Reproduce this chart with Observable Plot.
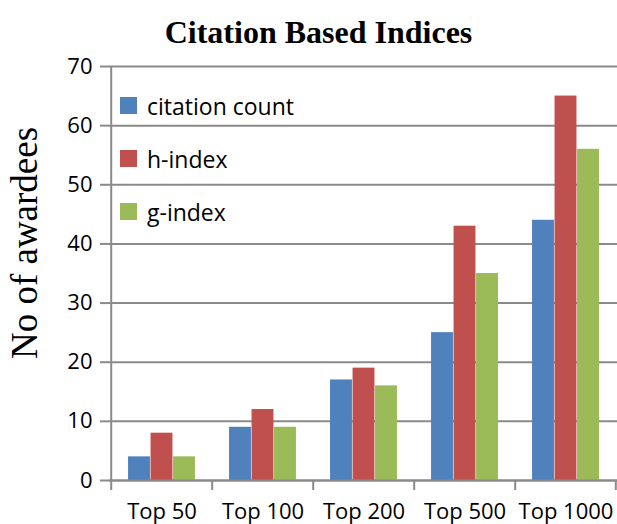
<!DOCTYPE html>
<html><head><meta charset="utf-8">
<script src="https://cdn.jsdelivr.net/npm/d3@7"></script>
<script src="https://cdn.jsdelivr.net/npm/@observablehq/plot@0.6"></script>
<style>
body{margin:0;background:#fff}
#wrap{position:relative;width:617px;height:524px;overflow:hidden;background:#fff}
#title{position:absolute;left:10px;top:13px;width:617px;text-align:center;font-family:"Liberation Serif","Times New Roman",serif;font-weight:bold;font-size:32px;line-height:38px;color:#000}
#chart{position:absolute;left:0;top:50px}
#ylabel{position:absolute;left:24px;top:243px;transform:translate(-50%,-50%) rotate(-90deg);font-family:"Liberation Serif","Times New Roman",serif;font-size:37px;white-space:nowrap;color:#000;line-height:1}
#legend{position:absolute;left:120px;top:79px;font-family:"Open Sans",sans-serif;font-size:23px;color:#000}
.item{display:flex;align-items:center;height:53px;margin-top:0}
.sw{width:17px;height:17px;margin-right:10px}
</style></head><body>
<div id="wrap">
<div id="title">Citation Based Indices</div>
<div id="chart"></div>
<div id="ylabel">No of awardees</div>
<div id="legend"></div>
</div>
<script>
const categories = ["Top 50", "Top 100", "Top 200", "Top 500", "Top 1000"];
const series = ["citation count", "h-index", "g-index"];
const citationCount = [4, 9, 17, 25, 44];
const hIndex = [8, 12, 19, 43, 65];
const gIndex = [4, 9, 16, 35, 56];
const yTicks = [0, 10, 20, 30, 40, 50, 60, 70];
const colors = ["#4F81BD", "#C0504D", "#9BBB59"];

const seriesValues = [citationCount, hIndex, gIndex];
const data = [];
series.forEach((s, si) => categories.forEach((c, ci) => data.push({category: c, series: s, value: seriesValues[si][ci]})));

const W = 617, ML = 109, MR = 0;
const band = (W - ML - MR) / categories.length;
const barW = 22.5;
const outer = (band - barW * series.length) / 2;
const gray = "#8a8a8a";

const barMarks = series.map((s, i) => Plot.barY(data.filter(d => d.series === s), {
  x: "category", y: "value", fill: colors[i],
  insetLeft: outer + i * barW,
  insetRight: band - outer - (i + 1) * barW
}));

const chart = Plot.plot({
  width: W, height: 474,
  marginLeft: ML, marginRight: MR, marginTop: 16, marginBottom: 44,
  style: {fontFamily: "Open Sans", fontSize: "22px", background: "#fff", color: "#000", overflow: "visible"},
  x: {domain: categories, padding: 0},
  y: {domain: [0, 70]},
  marks: [
    Plot.gridY(yTicks, {stroke: gray, strokeOpacity: 1, strokeWidth: 2}),
    Plot.axisY({ticks: yTicks, tickSize: 9, tickPadding: 8, stroke: gray, strokeWidth: 2, label: null}),
    Plot.axisX({tickSize: 0, tickPadding: 23, label: null}),
    ...barMarks,
    Plot.ruleX([categories[0]], {dx: -band / 2, y1: 0, y2: 70, stroke: gray, strokeWidth: 2}),
    Plot.ruleX(categories, {dx: -band / 2, y1: 0, y2: 0, insetBottom: -10, stroke: gray, strokeWidth: 2}),
    Plot.ruleX([categories[categories.length - 1]], {dx: band / 2 - 1, y1: 0, y2: 0, insetBottom: -10, stroke: gray, strokeWidth: 2}),
    Plot.ruleY([0], {stroke: gray, strokeWidth: 2})
  ]
});
document.getElementById("chart").appendChild(chart);

const legend = document.getElementById("legend");
series.forEach((s, i) => {
  const item = document.createElement("div");
  item.className = "item";
  item.innerHTML = `<div class="sw" style="background:${colors[i]}"></div><span>${s}</span>`;
  legend.appendChild(item);
});
</script>
</body></html>
